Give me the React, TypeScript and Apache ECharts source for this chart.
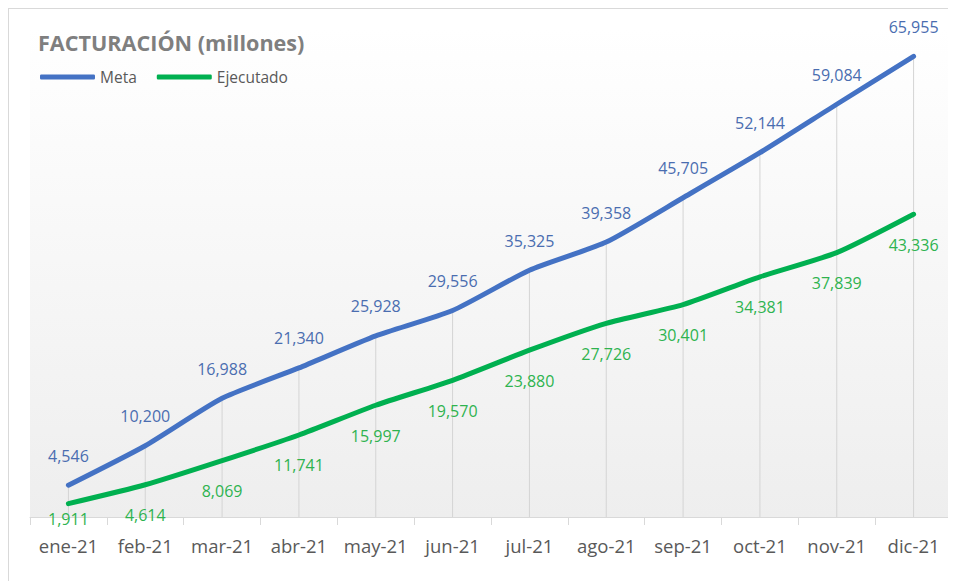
import React, { useEffect, useRef } from "react";
import * as echarts from "echarts";

const categories = ["ene-21", "feb-21", "mar-21", "abr-21", "may-21", "jun-21", "jul-21", "ago-21", "sep-21", "oct-21", "nov-21", "dic-21"];
const metaValues = [4546, 10200, 16988, 21340, 25928, 29556, 35325, 39358, 45705, 52144, 59084, 65955];
const ejecutadoValues = [1911, 4614, 8069, 11741, 15997, 19570, 23880, 27726, 30401, 34381, 37839, 43336];
const titleText = "FACTURACIÓN (millones)";
const seriesNames = ["Meta", "Ejecutado"];

const FONT = "'Open Sans', 'Noto Sans', sans-serif";
const fmt = (v: number) => v.toLocaleString("en-US");

export default function App() {
  const ref = useRef<HTMLDivElement>(null);
  useEffect(() => {
    if (!ref.current) return;
    const chart = echarts.init(ref.current, null, { renderer: "svg" });
    chart.setOption({
      animation: false,
      backgroundColor: "#ffffff",
      title: {
        text: titleText,
        left: 24,
        top: 17,
        textStyle: { fontFamily: FONT, fontSize: 21.6, fontWeight: "bold", color: "#7f7f7f" },
      },
      legend: {
        left: 31,
        top: 60,
        padding: 0,
        itemWidth: 55,
        itemHeight: 5,
        itemGap: 20,
        icon: "roundRect",
        textStyle: { fontFamily: FONT, fontSize: 15.5, color: "#595959" },
        data: seriesNames,
      },
      grid: {
        left: 21,
        right: 4,
        top: 19,
        bottom: 64,
        show: true,
        borderWidth: 0,
        backgroundColor: {
          type: "linear",
          x: 0, y: 0, x2: 0, y2: 1,
          colorStops: [
            { offset: 0, color: "#ffffff" },
            { offset: 1, color: "#eeeeee" },
          ],
        },
      },
      xAxis: {
        type: "category",
        data: categories,
        boundaryGap: true,
        axisLine: { lineStyle: { color: "#d9d9d9", width: 1 } },
        axisTick: { show: true, interval: 0, length: 8, lineStyle: { color: "#d9d9d9" } },
        axisLabel: { interval: 0, fontFamily: FONT, fontSize: 18.5, lineHeight: 19, color: "#595959", margin: 19 },
        splitLine: { show: false },
      },
      yAxis: {
        type: "value",
        min: 0,
        max: 70000,
        show: false,
        splitLine: { show: false },
      },
      series: [
        {
          name: "drop",
          type: "bar",
          data: metaValues,
          barWidth: 1,
          itemStyle: { color: "#d4d4d4" },
          silent: true,
          z: 1,
        },
        {
          name: seriesNames[0],
          type: "line",
          data: metaValues,
          smooth: 0.2,
          symbol: "circle",
          symbolSize: 1,
          showSymbol: true,
          lineStyle: { color: "#4472c4", width: 5, cap: "round", join: "round" },
          itemStyle: { color: "#4472c4" },
          label: {
            show: true,
            position: "top",
            distance: 21,
            formatter: (p: any) => fmt(p.value),
            fontFamily: FONT,
            fontSize: 16,
            lineHeight: 16,
            color: "#4a6db0",
          },
          z: 3,
        },
        {
          name: seriesNames[1],
          type: "line",
          data: ejecutadoValues.map((v, i) =>
            i === 0 ? { value: v, label: { distance: 7 } } : v
          ),
          smooth: 0.2,
          symbol: "circle",
          symbolSize: 1,
          showSymbol: true,
          lineStyle: { color: "#00b050", width: 5, cap: "round", join: "round" },
          itemStyle: { color: "#00b050" },
          label: {
            show: true,
            position: "bottom",
            distance: 22,
            formatter: (p: any) => fmt(p.value),
            fontFamily: FONT,
            fontSize: 16,
            lineHeight: 16,
            color: "#2eb34f",
          },
          z: 3,
        },
      ],
    });
    return () => chart.dispose();
  }, []);
  return (
    <div
      style={{
        width: 947,
        height: 572,
        borderTop: "1px solid #d9d9d9",
        borderLeft: "1px solid #d9d9d9",
        boxSizing: "content-box",
      }}
    >
      <div ref={ref} style={{ width: 947, height: 572 }} />
    </div>
  );
}
